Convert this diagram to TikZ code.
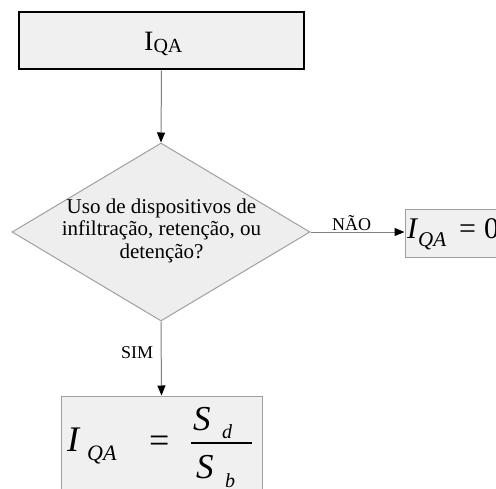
\documentclass[tikz,border=0pt]{standalone}
\usepackage{fontspec}
\setmainfont{Liberation Serif}
\usetikzlibrary{shapes.geometric,arrows.meta}
\definecolor{boxfill}{HTML}{F0F0F0}
\definecolor{diafill}{HTML}{EEEEEE}
\definecolor{edgegray}{HTML}{A0A0A0}
\definecolor{linkgray}{HTML}{808080}
\newcommand{\fsz}[1]{\fontsize{#1}{#1}\selectfont}
\tikzset{
  titlebox/.style={draw=black, line width=2.5pt, fill=boxfill, inner sep=0pt},
  resultbox/.style={draw=edgegray, line width=1pt, fill=boxfill, inner sep=0pt},
  decision/.style={diamond, draw=edgegray, line width=1pt, fill=diafill,
    minimum width=298pt, minimum height=178pt, inner sep=0pt},
  txt/.style={inner sep=0pt, anchor=base west},
  link/.style={draw=linkgray, line width=1pt,
    -{Triangle[length=10pt,width=8pt,black]}},
  lbl/.style={inner sep=0pt, anchor=base west, font=\fsz{18}},
}
\begin{document}
\begin{tikzpicture}[x=1pt,y=-1pt]
\useasboundingbox (0,0) rectangle (496,488);
\clip (0,0) rectangle (496,488);

% start box
\node[titlebox, minimum width=285pt, minimum height=57pt] (start) at (161.5,40.5) {};
\node[txt] (starttxt) at (144,50) {\fsz{28}I\raisebox{-2pt}{\fsz{20}QA}};

% decision
\node[decision] (dec) at (161,232) {};
\node[inner sep=0pt, align=center, font=\fontsize{21}{22.5}\selectfont] (dectxt)
  at (161.5,230.5) {Uso de dispositivos de\\infiltração, retenção, ou\\detenção?};

% "no" result
\node[resultbox, minimum width=125pt, minimum height=48pt] (zero) at (467.5,233) {};
\node[txt] (zI) at (407,238) {\fsz{30}\itshape I};
\node[txt] (zQA) at (418,246) {\fsz{21}\itshape QA};
\node[txt] (zeq) at (459,238) {\fsz{30}=};
\node[txt] (zval) at (484,238) {\fsz{30}0};

% "yes" result
\node[resultbox, minimum width=201pt, minimum height=130pt] (result) at (161.5,461) {};
\node[txt] (bI) at (67,451) {\fsz{36}\itshape I};
\node[txt] (bQA) at (87,460) {\fsz{22}\itshape QA};
\node[txt] (beq) at (149,452) {\fsz{36}=};
\node[txt] (numS) at (193,430) {\fsz{35}\itshape S};
\node[txt] (numd) at (222,438) {\fsz{20}\itshape d};
\coordinate (barL) at (191,443);
\coordinate (barR) at (252,443);
\draw[line width=1.5pt] (barL) -- (barR);
\node[txt] (denS) at (196,478) {\fsz{35}\itshape S};
\node[txt] (denb) at (225,487) {\fsz{20}\itshape b};

% connectors
\draw[link] (start.south) -- (dec.north);
\draw[link] (dec.east) -- (dec.east -| zero.west);
\draw[link] (dec.south) -- (result.north);
\node[lbl] (no) at (332,230) {NÃO};
\node[lbl] (yes) at (121,358) {SIM};
\end{tikzpicture}
\end{document}
